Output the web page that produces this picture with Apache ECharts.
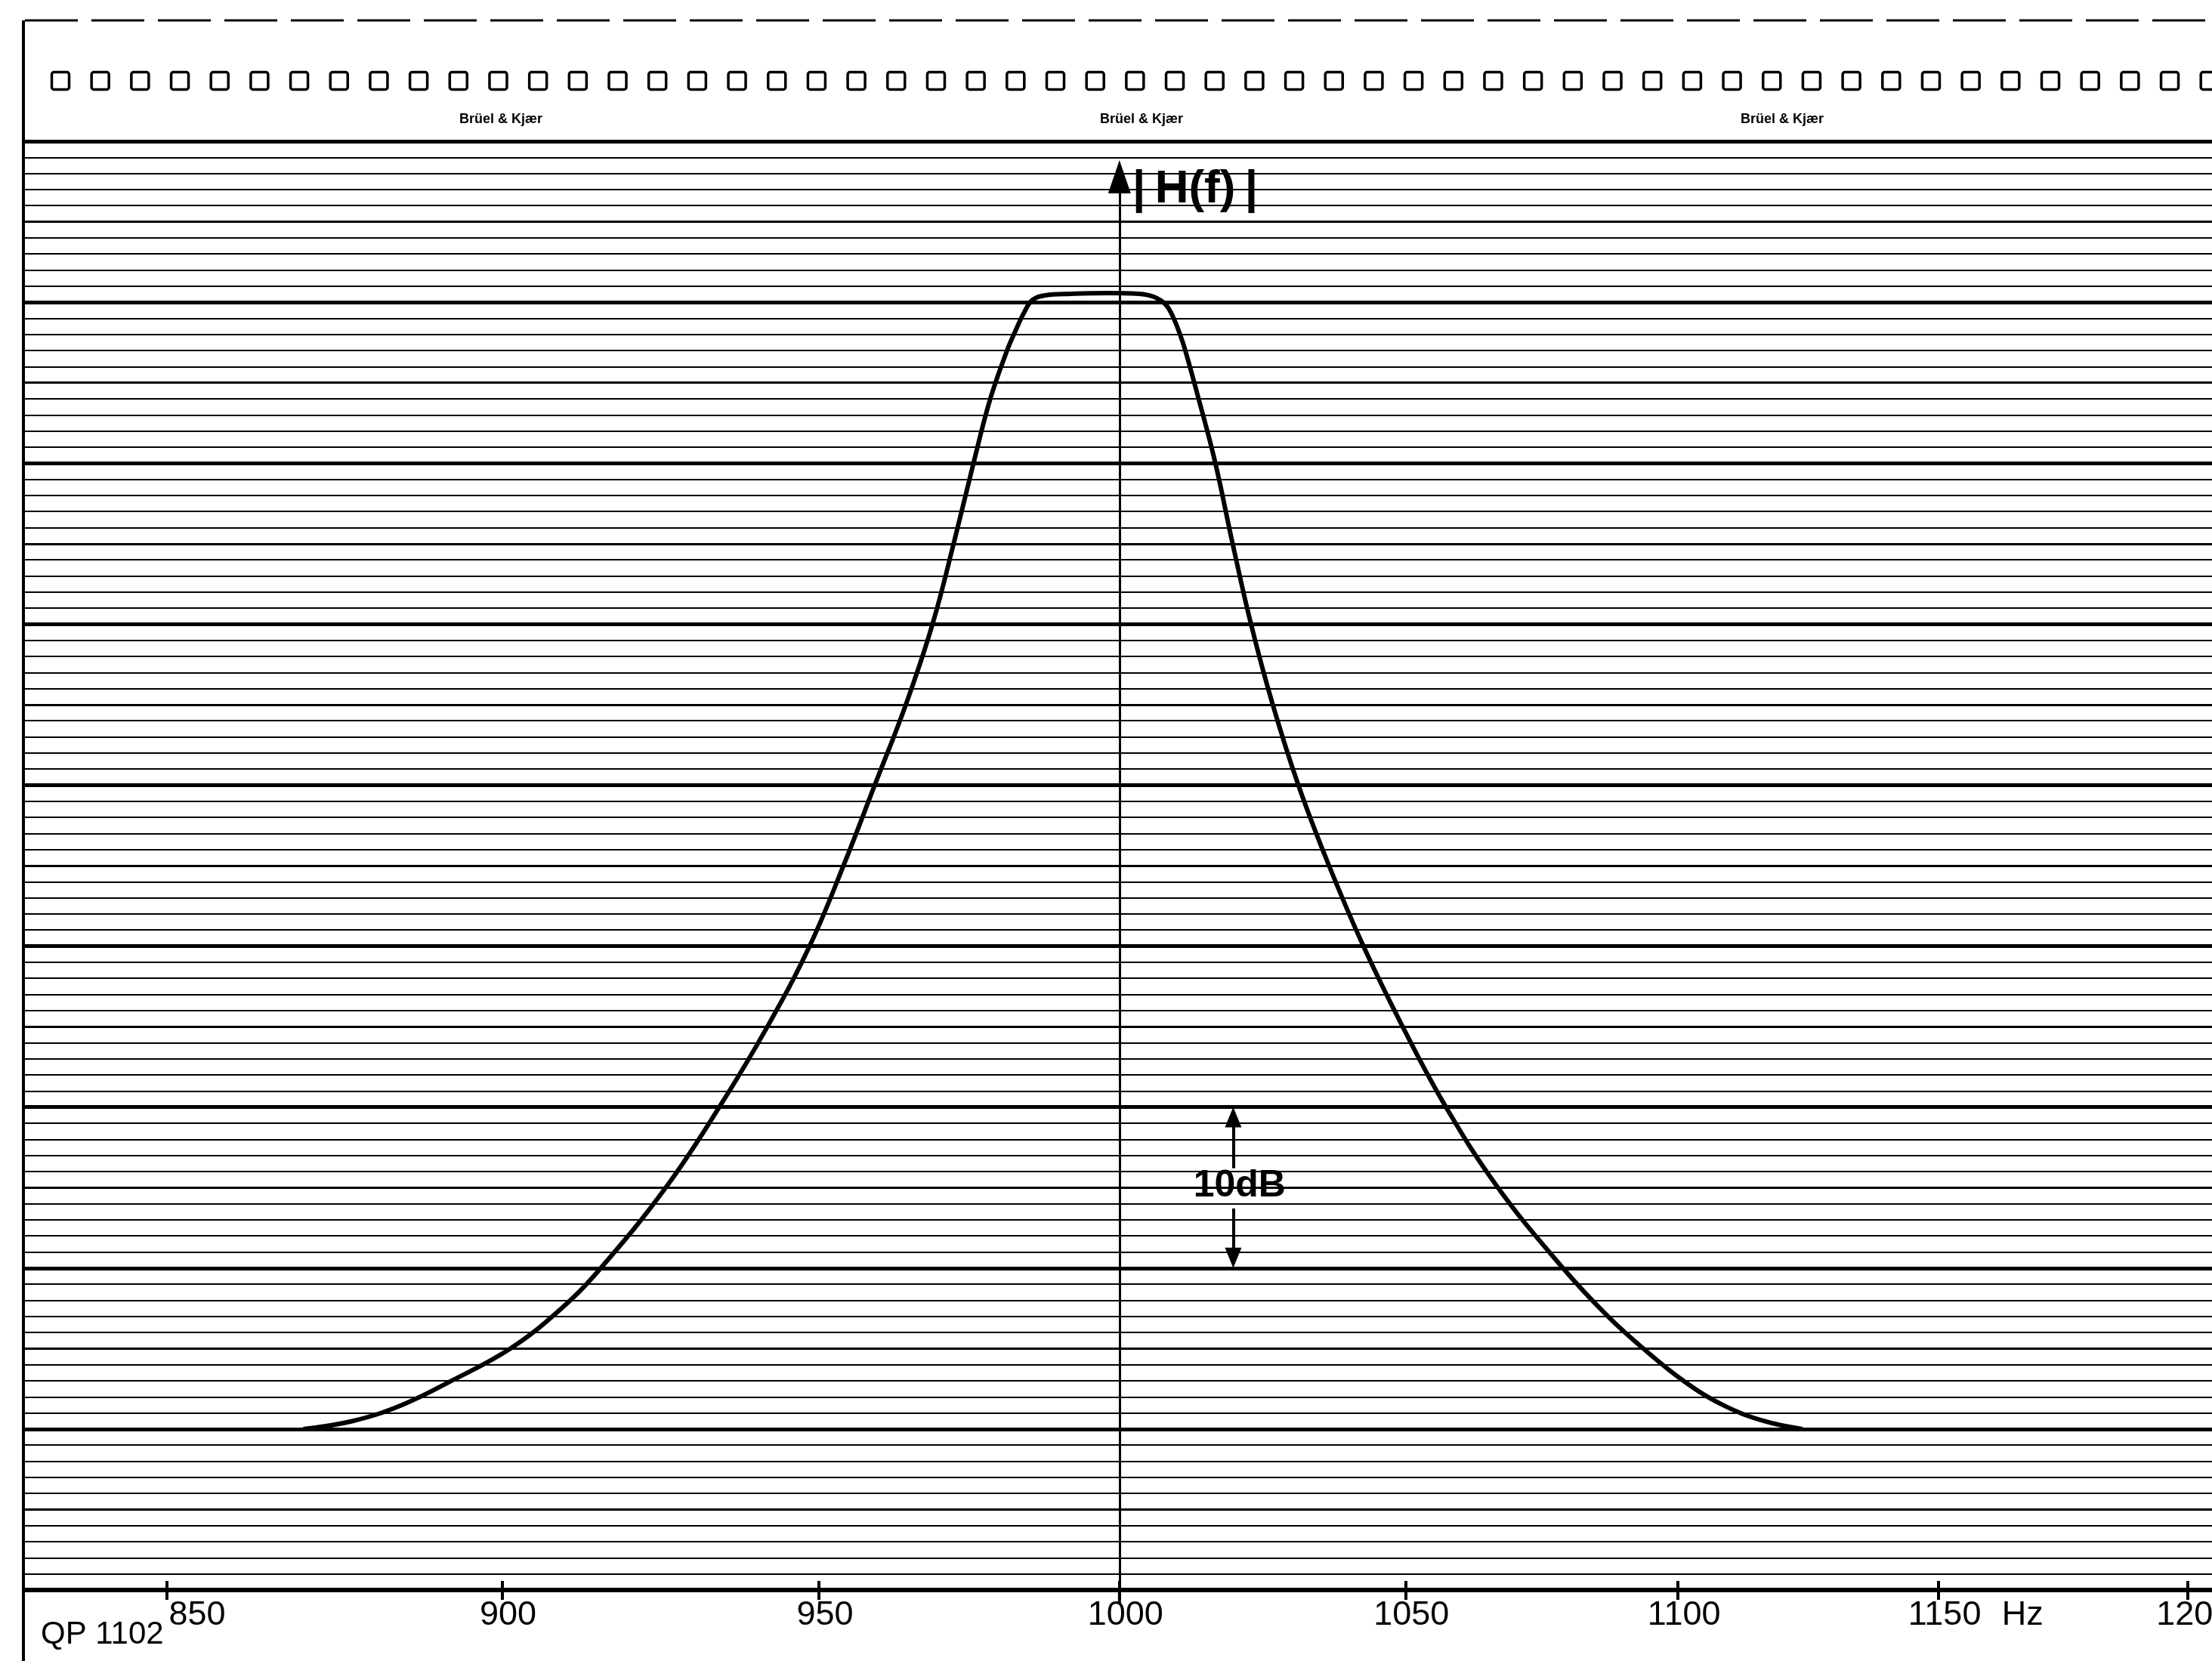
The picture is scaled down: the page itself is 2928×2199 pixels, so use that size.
<!DOCTYPE html>
<html>
<head>
<meta charset="utf-8">
<script src="https://cdn.jsdelivr.net/npm/echarts@6/dist/echarts.min.js"></script>
<style>
html,body{margin:0;padding:0;background:#fff;}
#c{width:2928px;height:2199px;}
</style>
</head>
<body>
<div id="c"></div>
<script>
// ---------------- data ----------------
const tickFreqs = [850, 900, 950, 1000, 1050, 1100, 1150, 1200];
const curveFreq = [870.0, 877.4, 884.8, 892.3, 901.3, 909.2, 915.3, 925.5, 934.0, 941.7,
  948.5, 954.0, 959.1, 964.2, 968.6, 972.1, 975.4, 978.2, 981.0, 982.3,
  983.9, 985.3, 987.4, 991.7, 998.1, 1003.3, 1005.9, 1007.9, 1009.2, 1010.4,
  1011.3, 1013.6, 1016.5, 1019.5, 1022.7, 1026.5, 1031.0, 1036.4, 1042.5, 1049.5,
  1057.3, 1066.7, 1078.6, 1086.9, 1093.5, 1101.0, 1108.4, 1116.2, 1123.6];
const curveDb = [-70.0, -69.5, -68.5, -67.0, -65.0, -62.5, -60.0, -55.0, -50.0, -45.0,
  -40.0, -35.0, -30.0, -25.0, -20.0, -15.0, -10.0, -6.0, -3.0, -1.87,
  -0.61, 0.15, 0.43, 0.52, 0.57, 0.52, 0.33, -0.14, -0.93, -2.01,
  -3.0, -6.0, -10.0, -15.0, -20.0, -25.0, -30.0, -35.0, -40.0, -45.0,
  -50.0, -55.0, -60.0, -63.0, -65.0, -67.0, -68.5, -69.5, -70.0];
const unitLabel = 'Hz';
const chartCode = 'QP 1102';
const yName = '|\u2009H(f)\u2009|';
const scaleText = '10dB';
const brandText = 'Brüel & Kjær';
const freqAxisMin = 829.64, freqAxisMax = 1204.93;
const dbMin = -80, dbMax = 10;
const yAxisTip = 8.83;          // dB at the tip of the |H(f)| arrow
const scaleBarFreq = 1019.6;    // frequency of the 10 dB dimension marker
const scaleBarFrom = -50, scaleBarTo = -60;

// ---------------- chart ----------------
const SANS = '"Liberation Sans", Arial, sans-serif';
const chart = echarts.init(document.getElementById('c'), null, {renderer: 'canvas'});

function yAxisDef(interval, width) {
  return {
    type: 'value', min: dbMin, max: dbMax, interval: interval,
    axisLine: {show: false}, axisTick: {show: false}, axisLabel: {show: false},
    splitLine: {show: true, lineStyle: {color: '#000', width: width}}
  };
}

const option = {
  animation: false,
  backgroundColor: '#ffffff',
  grid: {left: 33, right: 0, top: 187, bottom: 94, containLabel: false, outerBoundsMode: 'none'},
  xAxis: [
    {
      type: 'log', logBase: 10, min: freqAxisMin, max: freqAxisMax, position: 'bottom',
      axisLine: {show: true, onZero: false, lineStyle: {color: '#000', width: 6}},
      axisTick: {show: true, customValues: tickFreqs, length: 13, lineStyle: {color: '#000', width: 4}},
      axisLabel: {
        show: true, customValues: tickFreqs, margin: 11, color: '#000',
        fontFamily: SANS, fontSize: 45, padding: [0, 0, 0, 16], hideOverlap: false,
        formatter: function (v) {
          const r = Math.round(v);
          return r === tickFreqs[0] ? '{a|' + r + '}' : String(r);
        },
        rich: {a: {padding: [0, 0, 0, 64], fontFamily: SANS, fontSize: 45, color: '#000'}}
      },
      splitLine: {show: false}, minorTick: {show: false}, minorSplitLine: {show: false}
    },
    {
      type: 'log', logBase: 10, min: freqAxisMin, max: freqAxisMax, position: 'bottom',
      axisLine: {show: false, onZero: false},
      axisTick: {show: true, inside: true, customValues: tickFreqs, length: 12, lineStyle: {color: '#000', width: 4}},
      axisLabel: {show: false}, splitLine: {show: false}
    }
  ],
  yAxis: [yAxisDef(1, 2), yAxisDef(5, 3), yAxisDef(10, 5)],
  series: [{
    type: 'line', xAxisIndex: 0, yAxisIndex: 0,
    data: curveFreq.map((f, i) => [f, curveDb[i]]),
    smooth: 0.4, showSymbol: false, symbol: 'none', clip: false,
    lineStyle: {color: '#000', width: 6}, z: 5,
    markLine: {
      silent: true, animation: false, label: {show: false},
      lineStyle: {type: 'solid', color: '#000', width: 3},
      data: [
        [{coord: [tickFreqs[3], yAxisTip - 1.03], symbol: 'triangle', symbolSize: [30, 44]},
         {coord: [tickFreqs[3], dbMin], symbol: 'none'}],
        [{coord: [scaleBarFreq, scaleBarFrom - 0.63], symbol: 'triangle', symbolSize: [22, 27], lineStyle: {width: 4}},
         {coord: [scaleBarFreq, -53.8], symbol: 'none'}],
        [{coord: [scaleBarFreq, -56.3], symbol: 'none', lineStyle: {width: 4}},
         {coord: [scaleBarFreq, scaleBarTo + 0.63], symbol: 'triangle', symbolSize: [22, 27]}]
      ]
    }
  }]
};
chart.setOption(option);

// ---------------- decoration / annotations ----------------
const W = 2928, H = 2199;
const els = [];
// top border (broken) and left border
els.push({type: 'line', shape: {x1: 33, y1: 27, x2: W, y2: 27},
  style: {stroke: '#000', lineWidth: 3, lineDash: [70, 18]}, z: 10});
els.push({type: 'line', shape: {x1: 31, y1: 27, x2: 31, y2: H},
  style: {stroke: '#000', lineWidth: 4}, z: 10});
// sprocket holes
for (let i = 0; i < 55; i++) {
  const cx = 80 + 52.68 * i;
  els.push({type: 'rect', shape: {x: cx - 11.5, y: 95.5, width: 23, height: 23, r: 3},
    style: {fill: 'none', stroke: '#000', lineWidth: 3.5}, z: 10});
}
// brand marks
[663, 1511, 2359].forEach(function (cx) {
  els.push({type: 'text', x: cx, y: 158, z: 10,
    style: {text: brandText, fontFamily: SANS, fontWeight: 'bold', fontSize: 18,
      fill: '#000', align: 'center', verticalAlign: 'middle'}});
});
// extension of the 1000 Hz axis below the base line
const pBase = chart.convertToPixel({xAxisIndex: 0, yAxisIndex: 0}, [tickFreqs[3], dbMin]);
els.push({type: 'line', shape: {x1: pBase[0], y1: pBase[1], x2: pBase[0], y2: pBase[1] + 18},
  style: {stroke: '#000', lineWidth: 4}, z: 10});
// |H(f)|
const pH = chart.convertToPixel({xAxisIndex: 0, yAxisIndex: 0}, [1013.0, 7.0]);
els.push({type: 'text', x: pH[0], y: pH[1], z: 10,
  style: {text: yName, fontFamily: SANS, fontWeight: 'bold', fontSize: 62, fill: '#000', align: 'center', verticalAlign: 'middle'}});
// 10dB
const pS = chart.convertToPixel({xAxisIndex: 0, yAxisIndex: 0}, [1020.7, -54.9]);
els.push({type: 'text', x: pS[0], y: pS[1], z: 10,
  style: {text: scaleText, fontFamily: SANS, fontWeight: 'bold', fontSize: 50, fill: '#000', align: 'center', verticalAlign: 'middle'}});
// QP 1102
els.push({type: 'text', x: 54, y: 2164, z: 10,
  style: {text: chartCode, fontFamily: SANS, fontSize: 42, fill: '#000', align: 'left', verticalAlign: 'middle'}});
// Hz
const pHz = chart.convertToPixel({xAxisIndex: 0, yAxisIndex: 0}, [1166.6, dbMin]);
els.push({type: 'text', x: pHz[0], y: 2139, z: 10,
  style: {text: unitLabel, fontFamily: SANS, fontSize: 45, fill: '#000', align: 'center', verticalAlign: 'middle'}});

chart.setOption({graphic: {elements: els}});
</script>
</body>
</html>
